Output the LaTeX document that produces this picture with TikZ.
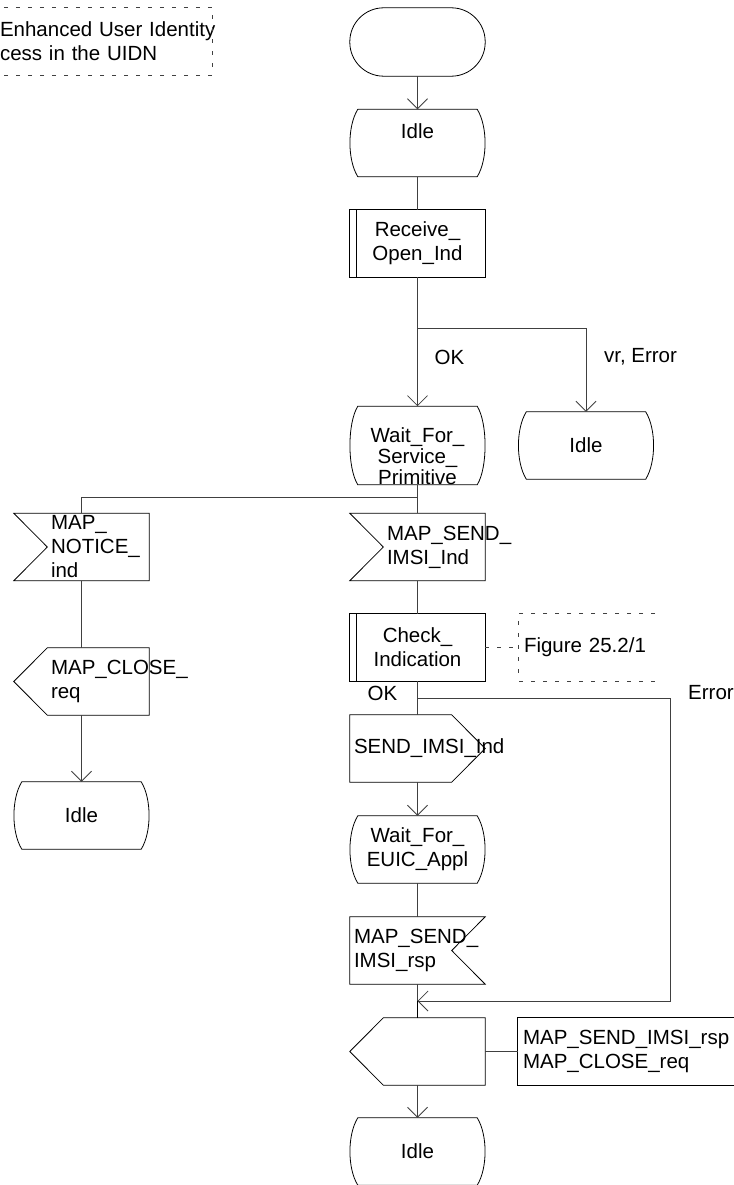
\documentclass[tikz,border=0pt]{standalone}
\usepackage{fontspec}
\setmainfont{Liberation Sans}
\usetikzlibrary{arrows.meta,calc}

\begin{document}
\begin{tikzpicture}[x=1pt,y=-1pt,
  every node/.style={font=\fontsize{20.5}{24}\selectfont, inner sep=0pt},
  sdl/.style={minimum width=135pt, minimum height=67pt, align=center},
  lft/.style={sdl, text width=#1, align=left, execute at begin node=\hyphenpenalty10000},
  outline/.style={line width=0.8pt},
  flow/.style={line width=0.8pt, black!75},
  arr/.style={flow, -{Straight Barb[length=10pt,width=20pt]}},
  note/.style={line width=0.8pt, black!75, dash pattern=on 4pt off 8pt}]
	\useasboundingbox (0,0) rectangle (733,1185);
	\node[lft=204pt, minimum width=220pt] (title) at (102,41.5) {\mbox{Enhanced User Identity}\\\mbox{cess in the UIDN}};
	\node[sdl, minimum height=68pt] (start) at (417.5,42) {};
	\node[sdl] (idleA) at (417.5,143) {Idle\\~};
	\node[sdl] (recv) at (417.5,243.5) {Receive\_\\Open\_Ind};
	\coordinate (splitA) at (417.5,328);
	\node (okA) at (449.5,357) {OK};
	\node (errA) at (640.5,357) {vr, Error};
	\node[sdl] (wfsp) at (417.5,445.5) {\mbox{}\\[12pt]Wait\_For\_\\[-3pt]Service\_\\[-3pt]Primitive};
	\node[sdl] (idleB) at (586,445.5) {Idle};
	\coordinate (splitB) at (417.5,497);
	\node[lft=61pt] (notice) at (81.5,547) {MAP\_\\NOTICE\_\\ind};
	\node[lft=61pt] (mapsend) at (417.5,547) {MAP\_SEND\_\\IMSI\_Ind};
	\node[sdl] (check) at (417.5,647.5) {Check\_\\Indication};
	\node[lft=126pt, minimum width=136pt] (figref) at (587,647.5) {Figure 25.2/1};
	\node[lft=61pt] (closeA) at (81.5,681.5) {MAP\_CLOSE\_\\req};
	\node[sdl] (idleC) at (81.5,815.5) {Idle};
	\coordinate (errsplit) at (417.5,698);
	\node (okB) at (382.5,693) {OK};
	\node[anchor=west] (errB) at (688,693) {Error};
	\node[lft=127pt] (sendimsi) at (417.5,748.5) {SEND\_IMSI\_Ind};
	\node[sdl] (wfeuic) at (417.5,849.5) {Wait\_For\_\\EUIC\_Appl};
	\node[lft=127pt] (rsp) at (417.5,950.5) {MAP\_SEND\_\\IMSI\_rsp};
	\coordinate (join) at (417.5,1001);
	\node[sdl] (out) at (417.5,1051.5) {};
	\node[lft=232pt, minimum width=242pt] (txt) at (639,1051.5) {MAP\_SEND\_IMSI\_rsp\\MAP\_CLOSE\_req};
	\node[sdl] (idleD) at (417.5,1151.5) {Idle};
	\draw[outline, rounded corners=33.9pt] (start.north west) rectangle (start.south east);
	\foreach \n in {idleA,wfsp,idleB,idleC,wfeuic,idleD}
	\draw[outline] ([xshift=8pt]\n.north west) -- ([xshift=-8pt]\n.north east)
	.. controls ([xshift=2.5pt,yshift=-17pt]\n.north east) and ([xshift=2.5pt,yshift=17pt]\n.south east) .. ([xshift=-8pt]\n.south east)
	-- ([xshift=8pt]\n.south west)
	.. controls ([xshift=-2.5pt,yshift=17pt]\n.south west) and ([xshift=-2.5pt,yshift=-17pt]\n.north west) .. cycle;
	\foreach \n in {recv,check} {
	\draw[outline] (\n.north west) rectangle (\n.south east);
	\draw[outline] ([xshift=7pt]\n.north west) -- ([xshift=7pt]\n.south west);
	}
	\foreach \n in {notice,mapsend}
	\draw[outline] (\n.north west) -- (\n.north east) -- (\n.south east) -- (\n.south west) -- ([xshift=33.5pt]\n.west) -- cycle;
	\foreach \n in {closeA,out}
	\draw[outline] ([xshift=33.5pt]\n.north west) -- (\n.north east) -- (\n.south east) -- ([xshift=33.5pt]\n.south west) -- (\n.west) -- cycle;
	\draw[outline] (sendimsi.north west) -- ([xshift=-33.5pt]sendimsi.north east) -- (sendimsi.east) -- ([xshift=-33.5pt]sendimsi.south east) -- (sendimsi.south west) -- cycle;
	\draw[outline] (rsp.north west) -- (rsp.north east) -- ([xshift=-33.5pt]rsp.east) -- (rsp.south east) -- (rsp.south west) -- cycle;
	\draw[outline] (txt.north west) rectangle (txt.south east);
	\draw[note] (figref.north east) -- (figref.north west) -- (figref.south west) -- (figref.south east);
	\draw[note] (title.north west) -- (title.north east) -- (title.south east) -- (title.south west);
	\draw[arr] (start.south) -- (idleA.north);
	\draw[flow] (idleA.south) -- (recv.north);
	\draw[flow] (recv.south) -- (splitA);
	\draw[arr] (splitA) -- (wfsp.north);
	\draw[arr] (splitA) -| (idleB.north);
	\draw[flow] (wfsp.south) -- (splitB);
	\draw[flow] (splitB) -| (notice.north);
	\draw[flow] (splitB) -- (mapsend.north);
	\draw[flow] (notice.south) -- (closeA.north);
	\draw[arr] (closeA.south) -- (idleC.north);
	\draw[flow] (mapsend.south) -- (check.north);
	\draw[note] (check.east) -- (figref.west);
	\draw[flow] (check.south) -- (sendimsi.north);
	\draw[arr] (errsplit) -- ++(252.5,0) |- (join);
	\draw[arr] (sendimsi.south) -- (wfeuic.north);
	\draw[flow] (wfeuic.south) -- (rsp.north);
	\draw[flow] (rsp.south) -- (join);
	\draw[outline, line width=1.8pt] (join) -- (out.north);
	\draw[arr] (out.south) -- (idleD.north);
	\draw[flow] (out.east) -- (txt.west);
\end{tikzpicture}
\end{document}
